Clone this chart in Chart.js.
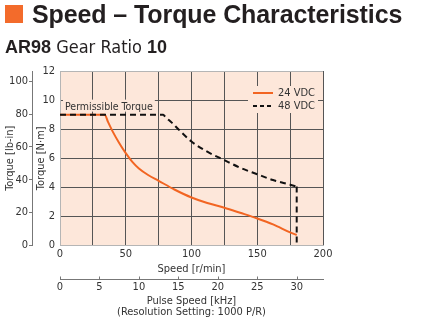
<!DOCTYPE html>
<html>
<head>
<meta charset="utf-8">
<script src="https://cdn.jsdelivr.net/npm/chart.js@4.4.1/dist/chart.umd.min.js"></script>
<style>
  body { margin: 0; background: #fff; }
  #wrap { position: relative; width: 425px; height: 325px; overflow: hidden; }
  #chart { position: absolute; left: 0; top: 0; }
  .sq { position: absolute; left: 5px; top: 5px; width: 18px; height: 18px; background: #f36b2b; }
  .title { position: absolute; left: 32px; top: 0px; font: bold 25px "Liberation Sans", Arial, sans-serif;
           color: #231f20; letter-spacing: -0.1px; white-space: nowrap; line-height: 28px; }
  .sub { position: absolute; left: 5px; top: 36px; color: #231f20; white-space: nowrap; line-height: 20px;
         font: 18px "DejaVu Sans Condensed", "Liberation Sans Narrow", sans-serif; }
  .sub b { font-family: "Liberation Sans", Arial, sans-serif; font-size: 18px; }
</style>
</head>
<body>
<div id="wrap">
  <canvas id="chart" width="425" height="325"></canvas>
  <div class="sq"></div>
  <div class="title">Speed – Torque Characteristics</div>
  <div class="sub"><b>AR98</b> Gear Ratio <b>10</b></div>
</div>
<script>
// speed [r/min] vs torque [N·m]
const speed24 = [0, 34, 36.5, 40, 45, 50, 55, 60, 67, 75, 87, 100, 112, 125, 137, 150, 162, 175, 180];
const torque24 = [9, 9, 8.5, 7.85, 7.05, 6.35, 5.75, 5.3, 4.85, 4.45, 3.85, 3.3, 2.92, 2.6, 2.25, 1.86, 1.45, 0.9, 0.72];
const speed48 = [0, 78.5, 80, 85, 90, 100, 112, 125, 137, 150, 162, 175, 180];
const torque48 = [9, 9, 8.85, 8.45, 8.0, 7.15, 6.45, 5.87, 5.35, 4.9, 4.5, 4.18, 4.05];
// drop to zero at max speed
const speed48Drop = [180, 180];
const torque48Drop = [4.05, 0];

const permissibleLabel = 'Permissible Torque';
const seriesLabels = ['24 VDC', '48 VDC'];

const speedTicks = [0, 50, 100, 150, 200];
const NM_TO_LBIN = 8.8507;
const KHZ_TO_RPM = 6; // 1000 P/R, gear ratio 10

const ORANGE = '#f26522';
const PEACH = '#fde7da';
const GRID = '#555';
const EDGE = '#b5b5b5';
const FONT = '"DejaVu Sans Condensed", "Liberation Sans Narrow", Arial, sans-serif';

const toXY = (xs, ys) => xs.map((x, i) => ({ x, y: ys[i] }));

const plotBg = {
  id: 'plotBg',
  beforeDraw(chart) {
    const { ctx, chartArea: a } = chart;
    ctx.save();
    ctx.fillStyle = PEACH;
    ctx.fillRect(a.left, a.top, a.right - a.left, a.bottom - a.top);
    ctx.restore();
  }
};

const permissible = {
  id: 'permissible',
  beforeDatasetsDraw(chart) {
    const { ctx, scales: { x, y } } = chart;
    const px = x.getPixelForValue(0) + 5, py = y.getPixelForValue(9) - 5;
    ctx.save();
    ctx.font = '10.5px ' + FONT;
    const w = ctx.measureText(permissibleLabel).width;
    ctx.fillStyle = PEACH;
    ctx.fillRect(px - 2, py - 10, w + 4, 12);
    ctx.fillStyle = '#333';
    ctx.textBaseline = 'alphabetic';
    ctx.fillText(permissibleLabel, px, py);
    ctx.restore();
  }
};

const legendBox = {
  id: 'legendBox',
  afterDatasetsDraw(chart) {
    const { ctx, chartArea: a } = chart;
    const left = a.right - 75, top = a.top + 15;
    ctx.save();
    ctx.fillStyle = PEACH;
    ctx.fillRect(left, top, 70, 27);
    ctx.font = '11px ' + FONT;
    ctx.textBaseline = 'middle';
    const styles = [{ c: ORANGE, d: [] }, { c: '#111', d: [4, 3] }];
    seriesLabels.forEach((lab, i) => {
      const yy = top + 7 + i * 13;
      ctx.strokeStyle = styles[i].c;
      ctx.lineWidth = 2;
      ctx.setLineDash(styles[i].d);
      ctx.beginPath();
      ctx.moveTo(left + 5, yy);
      ctx.lineTo(left + 25, yy);
      ctx.stroke();
      ctx.setLineDash([]);
      ctx.fillStyle = '#333';
      ctx.fillText(lab, left + 30, yy + 0.5);
    });
    ctx.restore();
  }
};

// pulse-speed axis has its tick marks pointing up from the axis line
const upTicks = {
  id: 'upTicks',
  afterDraw(chart) {
    const { ctx } = chart;
    const s = chart.scales.x2;
    ctx.save();
    ctx.strokeStyle = '#777';
    ctx.lineWidth = 1;
    s.ticks.forEach(t => {
      const px = Math.round(s.getPixelForValue(t.value)) + 0.5;
      ctx.beginPath();
      ctx.moveTo(px, s.top);
      ctx.lineTo(px, s.top - 3);
      ctx.stroke();
    });
    ctx.restore();
  }
};

Chart.defaults.font.family = FONT;
Chart.defaults.font.size = 11;
Chart.defaults.color = '#333';

new Chart(document.getElementById('chart'), {
  type: 'line',
  data: {
    datasets: [
      {
        label: seriesLabels[1],
        data: toXY(speed48, torque48),
        borderColor: '#111', borderWidth: 2, borderDash: [6, 4],
        pointRadius: 0, cubicInterpolationMode: 'monotone', order: 0
      },
      {
        label: seriesLabels[1] + ' max',
        data: toXY(speed48Drop, torque48Drop),
        borderColor: '#111', borderWidth: 2, borderDash: [6, 4],
        pointRadius: 0, tension: 0, order: 1
      },
      {
        label: seriesLabels[0],
        data: toXY(speed24, torque24),
        borderColor: ORANGE, borderWidth: 2,
        pointRadius: 0, cubicInterpolationMode: 'monotone', order: 2
      }
    ]
  },
  options: {
    responsive: false,
    animation: false,
    devicePixelRatio: 1,
    layout: { padding: { top: 71, right: 102, bottom: 7, left: 0 } },
    plugins: { legend: { display: false }, tooltip: { enabled: false } },
    scales: {
      x: {
        type: 'linear', position: 'bottom', min: 0, max: 200, weight: 0,
        ticks: { stepSize: 25, padding: 2, maxRotation: 0,
                 callback: v => speedTicks.includes(v) ? String(v) : '' },
        grid: { drawTicks: false, color: c => c.tick && c.tick.value === 0 ? EDGE : GRID },
        border: { color: EDGE },
        title: { display: true, text: 'Speed [r/min]', padding: { top: 0, bottom: 4 } },
        afterFit: s => { s.height = 34; }
      },
      x2: {
        type: 'linear', position: 'bottom', min: 0, max: 200 / KHZ_TO_RPM, weight: 1,
        ticks: { stepSize: 5, padding: 1, includeBounds: false, maxRotation: 0 },
        grid: { drawOnChartArea: false, drawTicks: false },
        border: { color: '#777' },
        title: { display: true, text: ['Pulse Speed [kHz]', '(Resolution Setting: 1000 P/R)'],
                 font: { lineHeight: 1.05 }, padding: { top: 0, bottom: 0 } },
        afterFit: s => { s.height = 38.5; }
      },
      y: {
        type: 'linear', position: 'left', min: 0, max: 12, weight: 0,
        ticks: { stepSize: 2, padding: 5 },
        grid: { drawTicks: false, color: c => c.tick && (c.tick.value === 0 || c.tick.value === 12) ? EDGE : GRID },
        border: { color: EDGE },
        title: { display: true, text: 'Torque [N·m]', padding: { top: 3, bottom: 0 } },
        afterFit: s => { s.width = 28; }
      },
      y2: {
        type: 'linear', position: 'left', min: 0, max: 12 * NM_TO_LBIN, weight: 1,
        ticks: { stepSize: 20, padding: 1, includeBounds: false },
        grid: { drawOnChartArea: false, tickLength: 3, color: '#777' },
        border: { color: '#777' },
        title: { display: true, text: 'Torque [lb-in]', padding: { top: 4, bottom: 0 } },
        afterFit: s => { s.width = 32; }
      }
    }
  },
  plugins: [plotBg, permissible, legendBox, upTicks]
});
</script>
</body>
</html>
